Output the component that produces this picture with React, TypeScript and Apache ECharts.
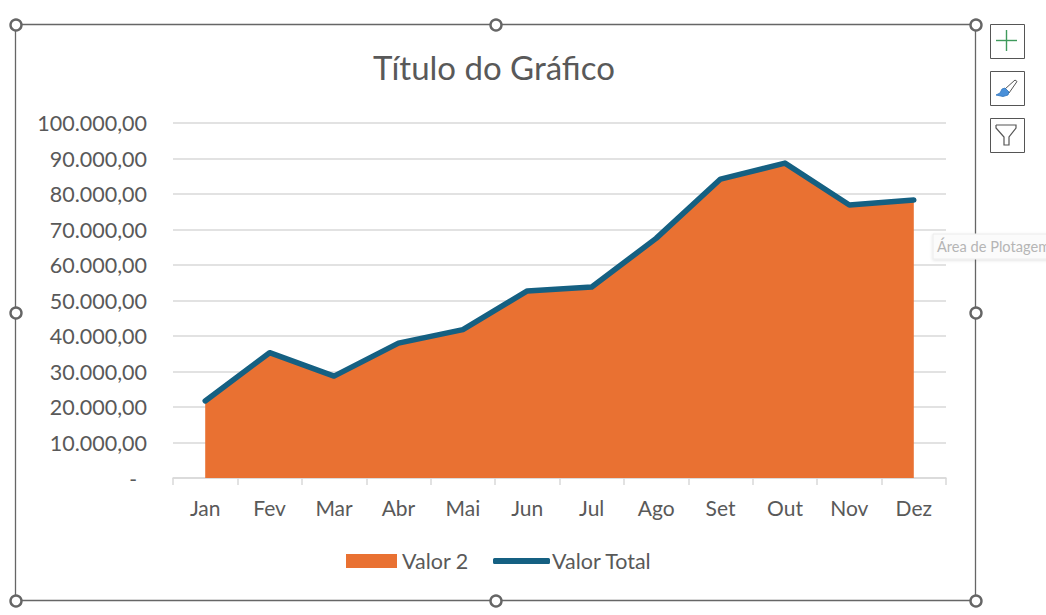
import React, { useEffect, useRef } from "react";
import * as echarts from "echarts";

const months = ["Jan", "Fev", "Mar", "Abr", "Mai", "Jun", "Jul", "Ago", "Set", "Out", "Nov", "Dez"];
const valor2 = [21700, 35300, 28700, 38000, 41800, 52700, 53800, 67500, 84200, 88700, 76900, 78300];
const valorTotal = [21700, 35300, 28700, 38000, 41800, 52700, 53800, 67500, 84200, 88700, 76900, 78300];
const chartTitle = "Título do Gráfico";
const hintText = "Área de Plotagem";
const seriesNames = ["Valor 2", "Valor Total"];

const FONT = "Lato, 'Noto Sans', sans-serif";
const TEXT = "#595959";
const GRID = "#d9d9d9";
const HANDLE = "#666666";

const handlePoints = [
  [16, 25], [496, 25], [976, 25],
  [16, 313], [976, 313],
  [16, 601], [496, 601], [976, 601],
];

function fmt(v: number) {
  if (v === 0) return "{z|-}";
  return v.toLocaleString("pt-BR", { minimumFractionDigits: 2, maximumFractionDigits: 2 });
}

function buildGraphic() {
  const els: any[] = [
    { type: "rect", shape: { x: 15.5, y: 24.5, width: 960, height: 576 }, style: { fill: "none", stroke: "#666666", lineWidth: 1.3 }, silent: true },
  ];
  handlePoints.forEach(([x, y]) => {
    els.push({ type: "circle", shape: { cx: x, cy: y, r: 5.5 }, style: { fill: "#fff", stroke: HANDLE, lineWidth: 2.4 }, z: 20 });
  });
  [24, 71, 118].forEach((y) => {
    els.push({ type: "rect", shape: { x: 990.5, y: y + 0.5, width: 34, height: 34 }, style: { fill: "#fff", stroke: "#555", lineWidth: 1 } });
  });
  els.push({ type: "line", shape: { x1: 996, y1: 40.5, x2: 1017, y2: 40.5 }, style: { stroke: "#3f9a5c", lineWidth: 1.4 } });
  els.push({ type: "line", shape: { x1: 1006.5, y1: 30, x2: 1006.5, y2: 51 }, style: { stroke: "#3f9a5c", lineWidth: 1.4 } });
  els.push({ type: "polygon", shape: { points: [[1005, 89], [1015, 80], [1017, 81.5], [1009, 93]] }, style: { fill: "#fff", stroke: "#555", lineWidth: 1 } });
  els.push({ type: "polygon", shape: { points: [[996, 95], [1000, 93], [1002, 89], [1005, 88], [1009, 92], [1008, 95], [1003, 96.5]] }, style: { fill: "#4a90d9", stroke: "#2f73bd", lineWidth: 0.8 } });
  els.push({ type: "polyline", shape: { points: [[996, 125], [1016, 125], [1016, 128], [1009, 137], [1009, 145], [1004, 145], [1004, 137], [996, 128], [996, 125]] }, style: { fill: "none", stroke: "#555", lineWidth: 1.2 } });
  els.push({ type: "rect", shape: { x: 933, y: 234, width: 125, height: 25 }, style: { fill: "#fbfbfb", stroke: "#ececec", lineWidth: 1, shadowBlur: 3, shadowColor: "rgba(0,0,0,0.12)", shadowOffsetY: 1 } });
  els.push({ type: "text", x: 937, y: 246, style: { text: hintText, font: `14.6px ${FONT}`, fill: "#b5b5b5", verticalAlign: "middle", align: "left" }, z: 21 });
  return els;
}

export default function App() {
  const ref = useRef<HTMLDivElement>(null);
  useEffect(() => {
    document.body.style.margin = "0";
    const chart = echarts.init(ref.current!, undefined, { renderer: "svg" });
    chart.setOption({
      animation: false,
      backgroundColor: "#fff",
      textStyle: { fontFamily: FONT },
      title: {
        text: chartTitle,
        left: 489,
        top: 45,
        textAlign: "center",
        textStyle: { fontFamily: FONT, fontSize: 33, fontWeight: "normal", color: TEXT },
      },
      legend: [
        {
          data: [{ name: seriesNames[0], icon: "rect" }],
          left: 346, top: 550, padding: 0, itemWidth: 51, itemHeight: 14, itemGap: 0,
          textStyle: { fontFamily: FONT, fontSize: 21.5, color: TEXT, padding: [0, 0, 0, 0] },
          selectedMode: false,
        },
        {
          data: [{ name: seriesNames[1], icon: "roundRect" }],
          left: 493, top: 550, padding: 0, itemWidth: 57, itemHeight: 6, itemGap: 0,
          textStyle: { fontFamily: FONT, fontSize: 21.5, color: TEXT, padding: [0, 0, 0, -3] },
          selectedMode: false,
        },
      ],
      grid: { left: 173, right: 100, top: 123, bottom: 137 },
      xAxis: {
        type: "category",
        data: months,
        boundaryGap: true,
        axisLine: { show: true, lineStyle: { color: GRID, width: 1.5 } },
        axisTick: { show: true, length: 7, alignWithLabel: false, lineStyle: { color: GRID, width: 1.5 } },
        axisLabel: { color: TEXT, fontFamily: FONT, fontSize: 21, margin: 19 },
      },
      yAxis: {
        type: "value",
        min: 0,
        max: 100000,
        interval: 10000,
        axisLine: { show: false },
        axisTick: { show: false },
        splitLine: { lineStyle: { color: GRID, width: 1.5 } },
        axisLabel: {
          color: TEXT,
          fontFamily: FONT,
          fontSize: 21.5,
          margin: 26,
          formatter: fmt,
          rich: { z: { color: TEXT, fontFamily: FONT, fontSize: 21, padding: [0, 10, 0, 0] } },
        },
      },
      series: [
        {
          name: seriesNames[0],
          type: "line",
          data: valor2,
          symbol: "none",
          lineStyle: { width: 0 },
          itemStyle: { color: "#E97132" },
          areaStyle: { color: "#E97132", opacity: 1 },
          z: 2,
        },
        {
          name: seriesNames[1],
          type: "line",
          data: valorTotal,
          symbol: "none",
          lineStyle: { width: 5.5, color: "#156082", cap: "round", join: "round" },
          itemStyle: { color: "#156082" },
          z: 3,
        },
      ],
      graphic: { elements: buildGraphic() },
    });
    return () => chart.dispose();
  }, []);
  return <div ref={ref} style={{ width: 1046, height: 615 }} />;
}
